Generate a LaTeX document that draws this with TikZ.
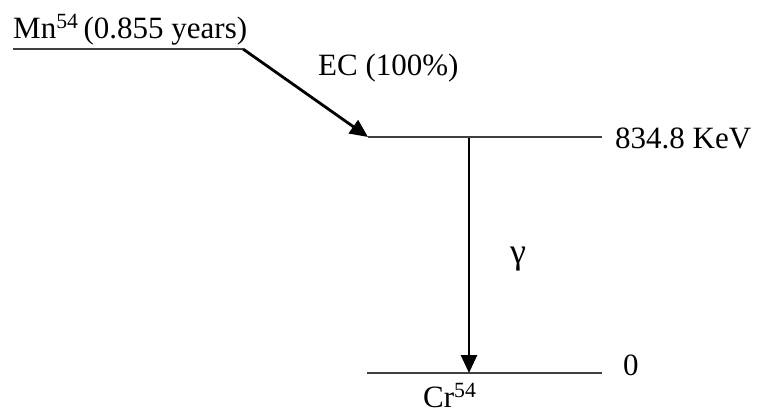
\documentclass[tikz,border=0pt]{standalone}
\usepackage{fontspec}
\setmainfont{Liberation Serif}
\usetikzlibrary{arrows.meta}
\begin{document}
\begin{tikzpicture}[x=1pt,y=-1pt,
  level/.style={line width=1.5pt,draw=black!75},
  trans/.style={line width=2.8pt,-{Triangle[length=18pt,width=16pt]}},
  lbl/.style={font=\fontsize{31}{36}\selectfont,inner sep=0pt,anchor=base west}]
\useasboundingbox (0,0) rectangle (758,415);
\coordinate (mnL) at (13,49); \coordinate (mnR) at (243,49);
\coordinate (exL) at (368,137); \coordinate (exR) at (602,137);
\coordinate (gsL) at (367,373); \coordinate (gsR) at (602,373);
\coordinate (gtop) at (469,138); \coordinate (gbot) at (469,373);
\draw[level] (mnL) -- (mnR);
\draw[level] (exL) -- (exR);
\draw[level] (gsL) -- (gsR);
\draw[trans] (mnR) -- (exL);
\draw[trans] (gtop) -- (gbot);
\node[lbl] (mn) at (13,38) {Mn\textsuperscript{54}\,(0.855 years)};
\node[lbl] (ec) at (318,75) {EC (100\%)};
\node[lbl] (ex) at (615,148) {834.8 KeV};
\node[lbl] (gs) at (623,375) {0};
\node[lbl] (cr) at (423,407) {Cr\textsuperscript{54}};
\node[lbl,font=\fontsize{36}{40}\selectfont] (g) at (510,263) {γ};
\end{tikzpicture}
\end{document}
